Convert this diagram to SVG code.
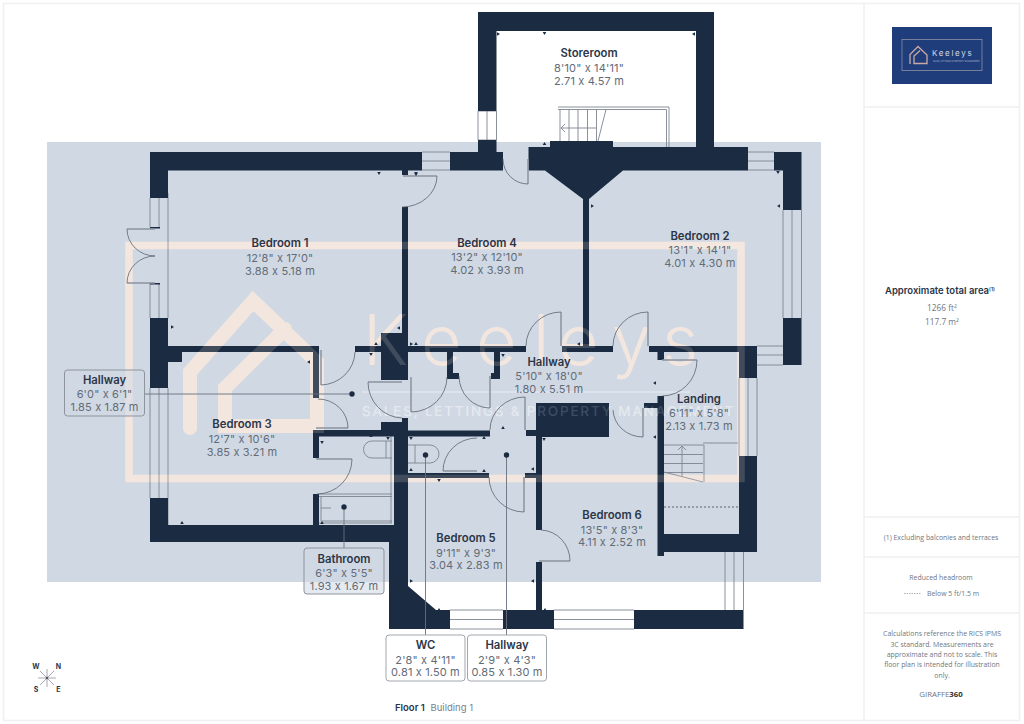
<svg xmlns="http://www.w3.org/2000/svg" xmlns:xlink="http://www.w3.org/1999/xlink" width="1024" height="724" viewBox="0 0 1024 724">
<style>
text{font-family:"Inter","Noto Sans","Liberation Sans",sans-serif;font-feature-settings:"calt" 0}
.t{font-size:11.300px;font-weight:600;fill:#2b3548;text-anchor:middle}
.d{font-size:11px;letter-spacing:.15px;fill:#626b78;text-anchor:middle}
.s{font-family:"Open Sans","Noto Sans",sans-serif;font-size:6.900px;fill:#6f7681;text-anchor:middle}
.a{font-family:"Open Sans","Noto Sans",sans-serif;font-size:8.300px;fill:#6f7681;text-anchor:middle}
.f{fill:none;stroke:#f0f0f0;stroke-width:1.6}
.wall{fill:#1a2b42}
.w{fill:none;stroke:#7d8590;stroke-width:.9}
.arc{fill:none;stroke:#5b6470;stroke-width:.8}
.leaf{fill:none;stroke:#8b939e;stroke-width:1.5}
.lead{fill:none;stroke:#68717d;stroke-width:.9}
.box{fill:#d0d9e3;fill-opacity:.55;stroke:#8d949e;stroke-width:1}
.boxw{fill:#fff;stroke:#a2a7ae;stroke-width:1}
.dot{fill:#1a2b42}
.tk{fill:#1a2b42}
</style>
<defs>
<g id="wm">
<rect x="129" y="245.500" width="612" height="233" fill="none" stroke="#fbeadf" stroke-width="7.500"/>
<path d="M190 428V372L253 301L317 362V426H225V388L285 329" fill="none" stroke="#fbeadf" stroke-width="14" stroke-linecap="round" stroke-linejoin="miter"/>
<text x="363 421 476 533 558 612 662" y="365" font-size="70" font-weight="300" fill="#fbeadf">Keeleys</text>
<path d="M362 392H690" stroke="#eef1f5" stroke-width="1" fill="none"/>
<text x="362" y="416" font-size="13.500" font-weight="500" letter-spacing="1.800" fill="#e9edf2">SALES, LETTINGS &amp; PROPERTY MANAGEMENT</text>
</g>
<path id="tick" d="M-1.800 0H1.800L0 3Z"/>
</defs>
<rect width="1024" height="724" fill="#fff"/>
<g id="frame">
<rect class="f" x="3.500" y="3.500" width="1016" height="717"/>
<path class="f" d="M864 3V721M864 107H1019M864 517H1019M864 557H1019M864 613H1019"/>
</g>
<rect id="plan-background" x="47" y="142" width="774" height="440" fill="#d0d9e3"/>
<use href="#wm" opacity=".8"/>
<g id="windows">
<rect x="478" y="111" width="18.500" height="29" fill="#fff"/>
<rect x="450" y="610" width="53" height="19" fill="#fff"/>
<rect x="554" y="610" width="80" height="19" fill="#fff"/>
<path class="w" d="M150 198V227M159 198V227M150 283V318M159 283V318M168 193V318M150 388V498M159 388V498M168 388V525"/>
<path class="w" d="M422 152H450M422 161H450M422 170H450M478 111V140M487 111V140M496.500 111V140M478 111H496M478 140H496"/>
<path class="w" d="M748 152H774M748 161H774M748 170H774M783 210V318M792 210V318M801.500 210V318"/>
<path class="w" d="M757 346H783M757 355H783M757 365H783M739 378V456M748 378V456M757 378V456"/>
<path class="w" d="M450 610H503M450 619.500H503M450 629H503M554 610H634M554 619.500H634M554 629H634M725 552V610M734 552V610M743.500 552V610"/>
</g>
<g id="fixtures">
<path class="w" stroke-width=".8" d="M558 107H669V147M558 109.500H666.500V147M560 109.500V141M569 109.500V141M578 109.500V141M587.500 109.500V141M596.500 109.500V141M606 109.500L598 141M561 128H596M565 124L561 128L565 132"/>
<path class="w" d="M664 445H704V482M703 443H738M664 454.500H703M664 463.500H703M664 472.500H703M664 472L703 482M682 477V446M678 450L682 446L686 450"/>
<path fill="none" stroke="#5b6470" stroke-width="1" stroke-dasharray="2 2" d="M664 507H739"/>
<path class="w" d="M391 436V523M386 441V458M392 441H372A8.500 8.500 0 0 0 372 458H392M408 445H430A9 9 0 0 1 430 463H408M415 445V463"/>
<path class="w" d="M319 494H392M319 496.500H392M321 497V521H392M319 523H392M321 508H331"/>
</g>
<g id="walls">
<path class="wall" d="M150 152H422V170.500H168V198H150ZM402 170H408V175H402ZM450 152H503V170.500H450ZM478 12H714V147H696V31H496.500V111H478ZM478 140H496.500V152H478ZM528.500 147H748V170.500H623L589 199V347H583V199L545 170.500H528.500ZM550 141H613V148H550ZM774 152H801.500V210H783V170.500H774ZM783 318H801.500V365H783ZM150 318H168V346H319V398H313V352H182V362H168V388H150Z"/>
<path class="wall" d="M355 346H381V333H402V207H408V346H526V352H408V380H381V352H355ZM447 352H453V373H459V379H447ZM494 352H500V379H491V373H494ZM562 346H613V352H562ZM649 346H739V352H664V360H657.500V352H649ZM739 346H757V378H739ZM739 456H757V552H664V556H657.500V396H664V534H739ZM644 403H658V408H644ZM536 403H609V437H542V530H536ZM526 430H536V436H526ZM525 473H536V478H525ZM536 562H542V610H536Z"/>
<path class="wall" d="M313 430H381V422H402V418H408V430.500H490V436.500H408V473H489V478H408V542V586L436 610H450V629H389V542H168V525H313V494H319V525H394V436.500H319V458H313ZM150 498H168V542H150ZM503 610H554V629H503ZM634 610H743.500V629H634Z"/>
<path class="wall" d="M150 227H160V228.500H150ZM150 283H160V284.500H150Z"/>
</g>
<use href="#wm" opacity=".17"/>
<g id="doors">
<path class="leaf" d="M127 229H155M127 283H155M403 176H437M528 159V184M321 350V385M316 428H348M368 382H402M411 377V412M490 376V408M525 397V430M316 459H352M443 471H477M524 477V512M539 561H570M561 312V346M648 312V346M662 360H697M643 408V437"/>
<path class="arc" d="M127 229A28 27 0 0 0 155 256A28 27 0 0 0 127 283M437 176A35 31 0 0 1 402 207M503 159A25 25 0 0 0 528 184M321 385A35 34 0 0 0 355 352M318 399A30 29 0 0 1 348 428M368 382A35 36 0 0 0 402 418M411 412A36 35 0 0 0 447 377M490 408A31 32 0 0 1 459 376M525 397A35 33 0 0 0 490 430M352 459A35 35 0 0 1 317 494M443 471A34 33 0 0 1 477 438M489 477A35 35 0 0 0 524 512M541 530A30 31 0 0 1 570 561M526 346A35 34 0 0 1 561 312M613 346A35 34 0 0 1 648 312M697 360A35 36 0 0 1 662 396M613 410A30 28 0 0 0 643 437"/>
</g>
<g id="ticks" class="tk">
<use href="#tick" x="379" y="172"/><use href="#tick" x="416" y="172"/><use href="#tick" x="544.500" y="32"/><use href="#tick" x="778" y="171"/>
<use href="#tick" x="371" y="353"/><use href="#tick" x="503" y="354"/><use href="#tick" x="416" y="173"/>
<use href="#tick" x="371" y="437" transform="rotate(180 371 437)"/><use href="#tick" x="376" y="345" transform="rotate(180 376 345)"/><use href="#tick" x="416" y="345" transform="rotate(180 416 345)"/><use href="#tick" x="544.500" y="145" transform="rotate(180 544.500 145)"/>
<use href="#tick" x="182" y="524" transform="rotate(180 182 524)"/><use href="#tick" x="322" y="441"/><use href="#tick" x="322" y="524" transform="rotate(180 322 524)"/><use href="#tick" x="388" y="437"/><use href="#tick" x="411" y="437"/><use href="#tick" x="484" y="439" transform="rotate(180 484 439)"/><use href="#tick" x="411" y="471" transform="rotate(180 411 471)"/><use href="#tick" x="484" y="472" transform="rotate(180 484 472)"/><use href="#tick" x="439" y="479"/><use href="#tick" x="503" y="429" transform="rotate(180 503 429)"/><use href="#tick" x="544" y="438"/><use href="#tick" x="439" y="611" transform="rotate(180 439 611)"/><use href="#tick" x="545" y="611" transform="rotate(180 545 611)"/>
<use href="#tick" x="171" y="327" transform="rotate(-90 171 327)"/><use href="#tick" x="310" y="362" transform="rotate(90 310 362)"/><use href="#tick" x="400" y="328" transform="rotate(90 400 328)"/><use href="#tick" x="410" y="344" transform="rotate(-90 410 344)"/><use href="#tick" x="591" y="206" transform="rotate(-90 591 206)"/><use href="#tick" x="780" y="206" transform="rotate(90 780 206)"/><use href="#tick" x="497" y="34" transform="rotate(-90 497 34)"/><use href="#tick" x="695" y="34" transform="rotate(90 695 34)"/><use href="#tick" x="580" y="344" transform="rotate(90 580 344)"/><use href="#tick" x="656" y="383" transform="rotate(90 656 383)"/><use href="#tick" x="656" y="437" transform="rotate(90 656 437)"/><use href="#tick" x="410" y="581" transform="rotate(-90 410 581)"/><use href="#tick" x="534" y="581" transform="rotate(90 534 581)"/><use href="#tick" x="534" y="469" transform="rotate(90 534 469)"/>
</g>
<g id="connectors">
<path class="lead" d="M144.500 394H352M344 507V548M425.500 455V635M506.500 455V635"/>
<circle class="dot" cx="352" cy="394" r="2.700"/><circle class="dot" cx="344" cy="507" r="2.700"/><circle class="dot" cx="425.500" cy="455" r="2.700"/><circle class="dot" cx="506.500" cy="455" r="2.700"/>
</g>
<g id="room-storeroom"><text class="t" x="589" y="57">Storeroom</text><text class="d" x="589" y="72">8'10" x 14'11"</text><text class="d" x="589" y="84.500">2.71 x 4.57 m</text></g>
<g id="room-bedroom-1"><text class="t" x="280" y="247">Bedroom 1</text><text class="d" x="280" y="262">12'8" x 17'0"</text><text class="d" x="280" y="274.500">3.88 x 5.18 m</text></g>
<g id="room-bedroom-4"><text class="t" x="487" y="246.500">Bedroom 4</text><text class="d" x="487" y="261">13'2" x 12'10"</text><text class="d" x="487" y="273.500">4.02 x 3.93 m</text></g>
<g id="room-bedroom-2"><text class="t" x="700" y="239.500">Bedroom 2</text><text class="d" x="700" y="254">13'1" x 14'1"</text><text class="d" x="700" y="266.500">4.01 x 4.30 m</text></g>
<g id="room-hallway-main"><text class="t" x="549" y="365.500">Hallway</text><text class="d" x="549" y="380">5'10" x 18'0"</text><text class="d" x="549" y="392.500">1.80 x 5.51 m</text></g>
<g id="room-landing"><text class="t" x="699" y="402.500">Landing</text><text class="d" x="699" y="417">6'11" x 5'8"</text><text class="d" x="699" y="429.500">2.13 x 1.73 m</text></g>
<g id="room-bedroom-3"><text class="t" x="242" y="428">Bedroom 3</text><text class="d" x="242" y="443">12'7" x 10'6"</text><text class="d" x="242" y="455.500">3.85 x 3.21 m</text></g>
<g id="room-bedroom-6"><text class="t" x="612" y="518.500">Bedroom 6</text><text class="d" x="612" y="533.500">13'5" x 8'3"</text><text class="d" x="612" y="546">4.11 x 2.52 m</text></g>
<g id="room-bedroom-5"><text class="t" x="466" y="541.500">Bedroom 5</text><text class="d" x="466" y="556.500">9'11" x 9'3"</text><text class="d" x="466" y="568.500">3.04 x 2.83 m</text></g>
<g id="label-hallway-west"><rect class="box" x="64.500" y="370" width="80" height="46" rx="3"/><text class="t" x="104.500" y="384">Hallway</text><text class="d" x="104.500" y="398">6'0" x 6'1"</text><text class="d" x="104.500" y="411">1.85 x 1.87 m</text></g>
<g id="label-bathroom"><rect class="box" x="304" y="548" width="80" height="46" rx="3"/><text class="t" x="344" y="562.500">Bathroom</text><text class="d" x="344" y="577">6'3" x 5'5"</text><text class="d" x="344" y="589.500">1.93 x 1.67 m</text></g>
<g id="label-wc"><rect class="boxw" x="386" y="635" width="79" height="46" rx="3"/><text class="t" x="425.500" y="648.500">WC</text><text class="d" x="425.500" y="663.500">2'8" x 4'11"</text><text class="d" x="425.500" y="676">0.81 x 1.50 m</text></g>
<g id="label-hallway-south"><rect class="boxw" x="467.500" y="635" width="79" height="46" rx="3"/><text class="t" x="507" y="648.500">Hallway</text><text class="d" x="507" y="663.500">2'9" x 4'3"</text><text class="d" x="507" y="676">0.85 x 1.30 m</text></g>
<g id="floor-title"><text x="395" y="711" font-size="9.500" font-weight="600" fill="#2b3548">Floor 1</text><text x="430.500" y="711" font-size="9.500" fill="#7b818a">Building 1</text></g>
<g id="logo">
<rect x="892" y="27" width="100" height="57" fill="#1f3d7a"/>
<rect x="902" y="39.500" width="80" height="31" fill="none" stroke="#8d8fa3" stroke-width=".8"/>
<path d="M910 64V54.500L918 46.500L927 55V63.500H914V56L920 50.500" fill="none" stroke="#c9a9a4" stroke-width="1.300"/>
<text x="932" y="56" font-size="8" letter-spacing="1.700" fill="#d5dae6">Keeleys</text>
<text x="933" y="62" font-size="2.100" fill="#aab2c8">SALES, LETTINGS &amp; PROPERTY MANAGEMENT</text>
</g>
<g id="area"><text x="940" y="294" font-size="9.500" font-weight="600" fill="#2b3548" text-anchor="middle">Approximate total area<tspan font-size="5" dy="-3">(1)</tspan></text><text class="a" x="942" y="311">1266 ft²</text><text class="a" x="942" y="325">117.7 m²</text></g>
<g id="notes">
<text class="s" x="941" y="540">(1) Excluding balconies and terraces</text>
<text class="s" x="941" y="580">Reduced headroom</text>
<path d="M904 593.500H921" stroke="#9aa0a8" stroke-width=".8" stroke-dasharray="1.500 1"/>
<text class="s" x="927" y="596" style="text-anchor:start">Below 5 ft/1.5 m</text>
<text class="s" x="942" y="636">Calculations reference the RICS IPMS</text>
<text class="s" x="942" y="646.500">3C standard. Measurements are</text>
<text class="s" x="942" y="657">approximate and not to scale. This</text>
<text class="s" x="942" y="667">floor plan is intended for illustration</text>
<text class="s" x="942" y="677.500">only.</text>
<text class="a" x="941" y="697" style="font-size:7.800px">GIRAFFE<tspan font-weight="700" fill="#333">360</tspan></text>
</g>
<g id="compass">
<path d="M40 671L54 685M54 671L40 685M47 669V687M38 678H56" stroke="#8d939b" stroke-width=".8" fill="none"/>
<circle cx="47" cy="678" r="1.200" fill="#555"/>
<g font-size="7" font-weight="700" fill="#2b3548" text-anchor="middle"><text x="36" y="669">W</text><text x="58.500" y="669">N</text><text x="36" y="692">S</text><text x="58.500" y="692">E</text></g>
</g>
</svg>
